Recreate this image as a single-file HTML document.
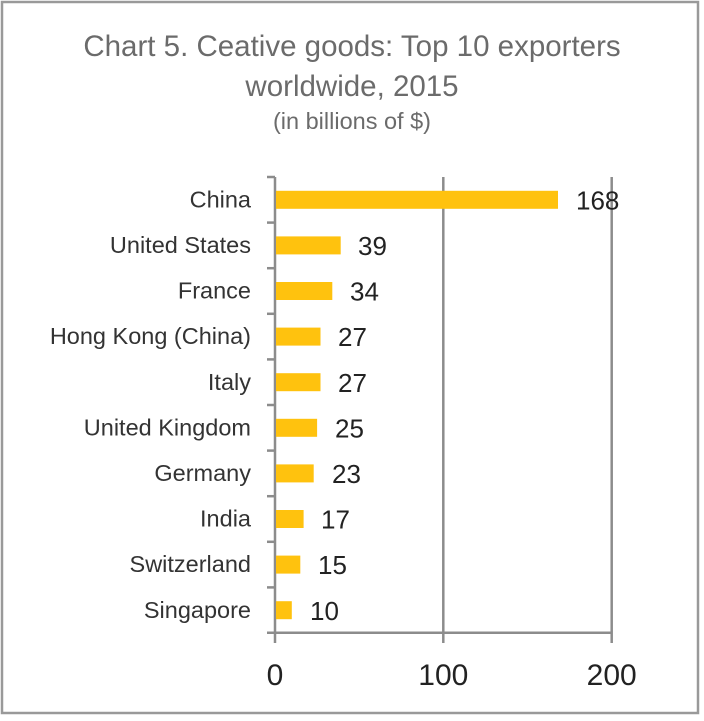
<!DOCTYPE html>
<html><head><style>
body{margin:0;background:#fff;}
svg text{font-family:"Liberation Sans",sans-serif;}
</style></head><body>
<svg width="704" height="716" xmlns="http://www.w3.org/2000/svg">
<rect x="2" y="2" width="696" height="711" fill="#fff" stroke="#999" stroke-width="2.5"/>
<text x="352" y="56" text-anchor="middle" font-size="29.5" fill="#6b6b6b">Chart 5. Ceative goods: Top 10 exporters</text>
<text x="352" y="96" text-anchor="middle" font-size="29.5" fill="#6b6b6b">worldwide, 2015</text>
<text x="352" y="129" text-anchor="middle" font-size="23.5" fill="#6b6b6b">(in billions of $)</text>
<g stroke="#8c8c8c" stroke-width="2.5" fill="none">
<line x1="275" y1="177" x2="275" y2="643"/>
<line x1="443.3" y1="177" x2="443.3" y2="643"/>
<line x1="611.7" y1="177" x2="611.7" y2="643"/>
<line x1="267" y1="632.7" x2="611.7" y2="632.7"/>
<line x1="267" y1="177" x2="275" y2="177"/>
<line x1="267" y1="222.6" x2="275" y2="222.6"/>
<line x1="267" y1="268.2" x2="275" y2="268.2"/>
<line x1="267" y1="313.8" x2="275" y2="313.8"/>
<line x1="267" y1="359.4" x2="275" y2="359.4"/>
<line x1="267" y1="405" x2="275" y2="405"/>
<line x1="267" y1="450.6" x2="275" y2="450.6"/>
<line x1="267" y1="496.2" x2="275" y2="496.2"/>
<line x1="267" y1="541.8" x2="275" y2="541.8"/>
<line x1="267" y1="587.4" x2="275" y2="587.4"/>
</g>
<g fill="#FFC20E">
<rect x="276" y="190.8" width="282" height="18"/>
<rect x="276" y="236.4" width="64.7" height="18"/>
<rect x="276" y="282" width="56.3" height="18"/>
<rect x="276" y="327.6" width="44.5" height="18"/>
<rect x="276" y="373.2" width="44.5" height="18"/>
<rect x="276" y="418.8" width="41.1" height="18"/>
<rect x="276" y="464.4" width="37.7" height="18"/>
<rect x="276" y="510" width="27.6" height="18"/>
<rect x="276" y="555.6" width="24.3" height="18"/>
<rect x="276" y="601.2" width="15.8" height="18"/>
</g>
<g font-size="23.5" fill="#333" text-anchor="end">
<text x="251" y="207.5">China</text>
<text x="251" y="253">United States</text>
<text x="251" y="298.6">France</text>
<text x="251" y="344.2">Hong Kong (China)</text>
<text x="251" y="389.8">Italy</text>
<text x="251" y="435.4">United Kingdom</text>
<text x="251" y="481">Germany</text>
<text x="251" y="526.6">India</text>
<text x="251" y="572.2">Switzerland</text>
<text x="251" y="617.8">Singapore</text>
</g>
<g font-size="26" fill="#222">
<text x="576" y="209.5">168</text>
<text x="358" y="255">39</text>
<text x="350" y="300.6">34</text>
<text x="338" y="346.2">27</text>
<text x="338" y="391.8">27</text>
<text x="335" y="437.4">25</text>
<text x="332" y="483">23</text>
<text x="321" y="528.6">17</text>
<text x="318" y="574.2">15</text>
<text x="310" y="619.8">10</text>
</g>
<g font-size="30" fill="#222" text-anchor="middle">
<text x="275" y="685">0</text>
<text x="443.3" y="685">100</text>
<text x="611.7" y="685">200</text>
</g>
</svg>
</body></html>
